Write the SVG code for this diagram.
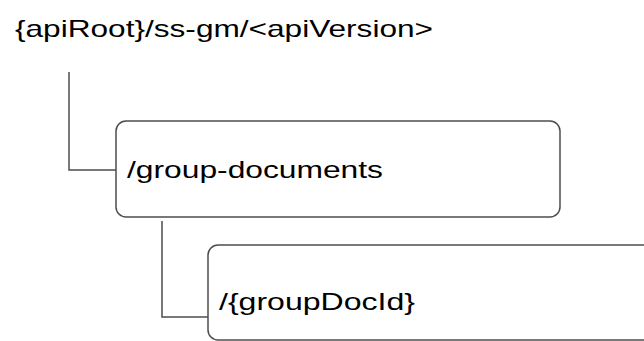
<svg xmlns="http://www.w3.org/2000/svg" width="644" height="341" viewBox="0 0 644 341">
<style>
text{font-family:"Liberation Sans",Arial,sans-serif;font-size:24px;fill:#000}
.box{fill:#fff;stroke:#4d4d4d;stroke-width:1.5}
.conn{fill:none;stroke:#4d4d4d;stroke-width:1.5}
</style>
<rect width="644" height="341" fill="#fff"/>
<g id="root">
<text x="15" y="37" textLength="418" lengthAdjust="spacingAndGlyphs">{apiRoot}/ss-gm/&lt;apiVersion&gt;</text>
</g>
<g id="connectors">
<path class="conn" d="M69 72 V170 H116"/>
<path class="conn" d="M162 221 V317 H208"/>
</g>
<g id="group-documents">
<rect class="box" x="116" y="121" width="444" height="96" rx="10"/>
<text x="127" y="178" textLength="256" lengthAdjust="spacingAndGlyphs">/group-documents</text>
</g>
<g id="groupDocId">
<rect class="box" x="208" y="245" width="446" height="95" rx="10"/>
<text x="219" y="310" textLength="196" lengthAdjust="spacingAndGlyphs">/{groupDocId}</text>
</g>
</svg>
